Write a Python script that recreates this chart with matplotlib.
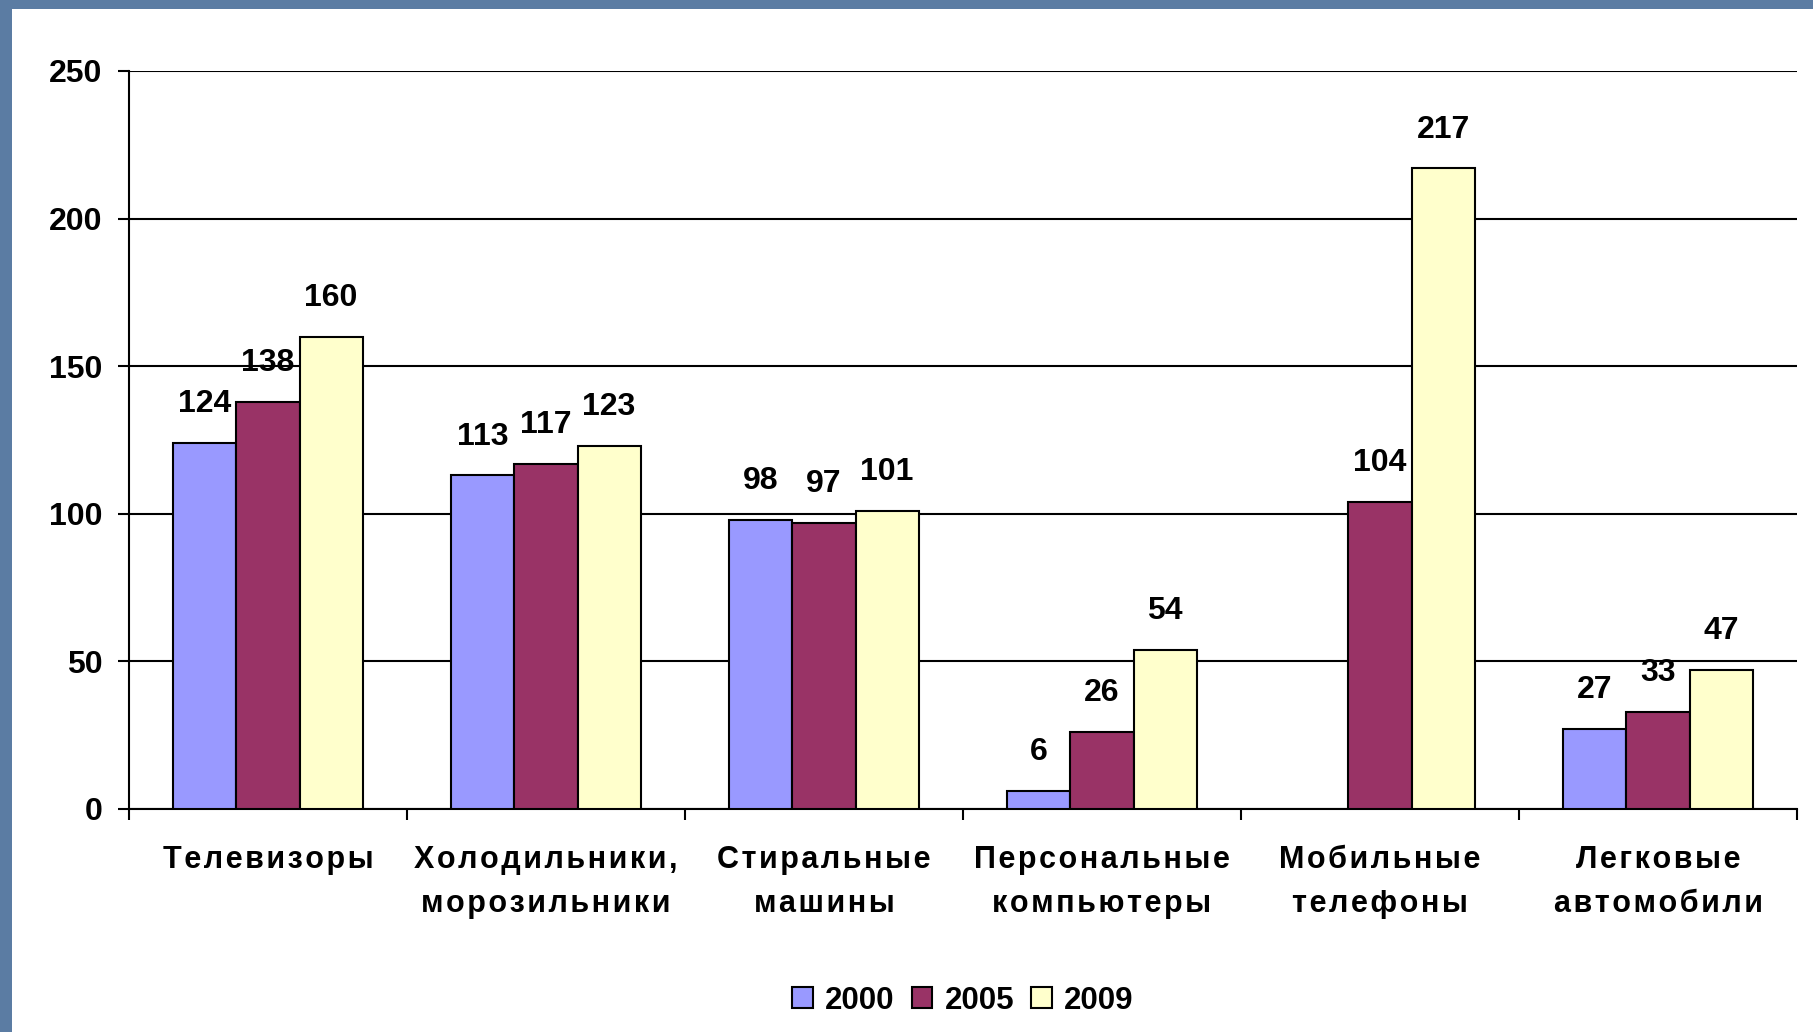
import numpy as np
import matplotlib.pyplot as plt
from matplotlib.patches import Rectangle

plt.rcParams['font.family'] = ['Liberation Sans', 'DejaVu Sans']
plt.rcParams['font.weight'] = 'bold'

categories = ["Телевизоры", "Холодильники,\nморозильники", "Стиральные\nмашины",
              "Персональные\nкомпьютеры", "Мобильные\nтелефоны", "Легковые\nавтомобили"]
years = ["2000", "2005", "2009"]
v2000 = [124, 113, 98, 6, np.nan, 27]
v2005 = [138, 117, 97, 26, 104, 33]
v2009 = [160, 123, 101, 54, 217, 47]
colors = ["#9999FF", "#993366", "#FFFFCC"]


def spaced(s):
    # the original labels are letter-spaced; mimic with hair spaces
    return "\n".join("\u200a".join(line) for line in s.split("\n"))


fig = plt.figure(figsize=(18.13, 10.32), dpi=100)
fig.patch.set_facecolor("#5b7ca3")
# white slide panel
fig.add_artist(Rectangle((12 / 1813, 0), 1, 1 - 9 / 1032, transform=fig.transFigure,
                         facecolor="white", edgecolor="none", zorder=0))

ax = fig.add_axes([129 / 1813, 1 - 809 / 1032, (1797 - 129) / 1813, (809 - 71) / 1032])
ax.set_facecolor("none")

x = np.arange(len(categories))
w = 0.227
for i, (vals, c, lab) in enumerate(zip([v2000, v2005, v2009], colors, years)):
    pos = x + (i - 1) * w
    bars = ax.bar(pos, np.nan_to_num(vals), w, color=c, edgecolor="black",
                  linewidth=1.5, label=lab, zorder=3)
    for p, v, b in zip(pos, vals, bars):
        if np.isnan(v):
            b.set_visible(False)
            continue
        ax.annotate(f"{v:g}", (p, v), xytext=(0, 28), textcoords="offset points",
                    ha="center", va="center", fontsize=23, fontweight="bold", zorder=4)

ax.set_xlim(-0.5, len(categories) - 0.5)
ax.set_ylim(0, 250)
ax.set_yticks(range(0, 251, 50))
ax.yaxis.grid(True, color="black", linewidth=1.5, zorder=1)
ax.set_axisbelow(True)

for s in ["top", "right"]:
    ax.spines[s].set_visible(False)
ax.spines["left"].set_linewidth(1.5)
ax.spines["bottom"].set_linewidth(1.5)

ax.set_xticks(x)
ax.set_xticklabels([spaced(c) for c in categories], fontsize=22, fontweight="bold",
                   linespacing=1.6)
ax.set_xticks(np.arange(-0.5, len(categories)), minor=True)
ax.tick_params(axis="x", which="major", length=0, pad=26)
ax.tick_params(axis="x", which="minor", length=8, width=1.5, direction="out")
ax.tick_params(axis="y", length=8, width=1.5, pad=11, labelsize=23)
for t in ax.get_yticklabels():
    t.set_fontweight("bold")

leg = ax.legend(loc="center", bbox_to_anchor=(0.5, -0.26), ncol=3, frameon=False,
                handlelength=0.65, handleheight=0.65, handletextpad=0.4,
                columnspacing=0.55, prop={"weight": "bold", "size": 22.5})

fig.savefig("out.png", dpi=100, facecolor=fig.get_facecolor())
